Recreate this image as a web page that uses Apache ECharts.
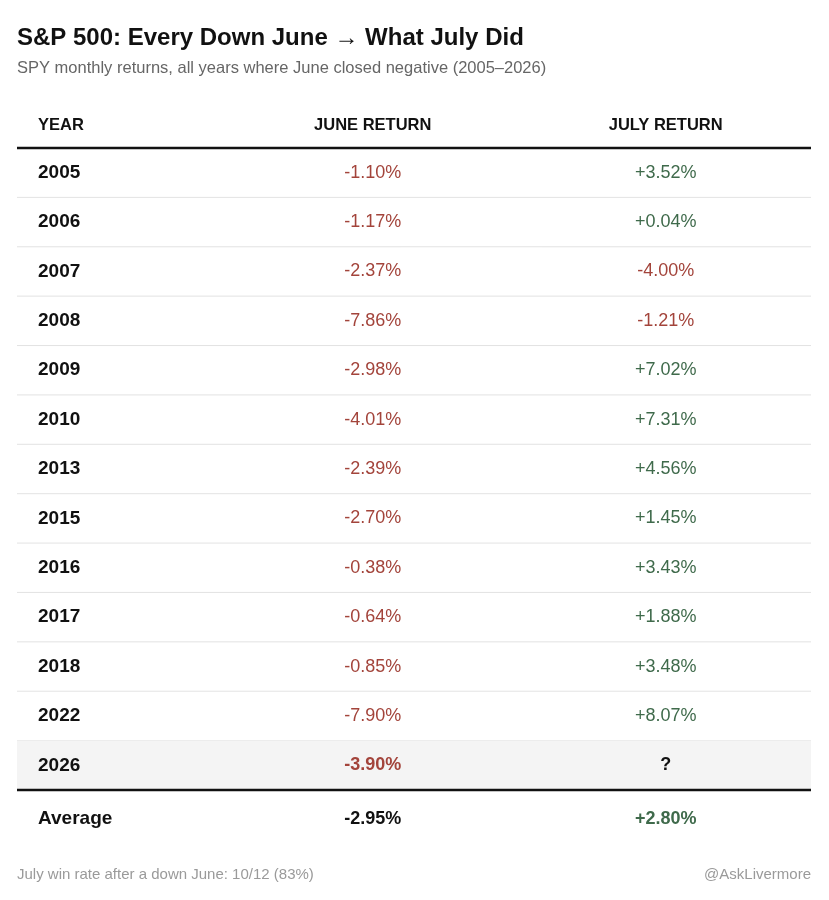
<!DOCTYPE html>
<html>
<head>
<meta charset="utf-8">
<title>S&amp;P 500: Every Down June</title>
<script src="https://cdn.jsdelivr.net/npm/echarts@6/dist/echarts.min.js"></script>
<style>
  html, body { margin: 0; padding: 0; background: #fff; }
  #chart { width: 829px; height: 900px; }
</style>
</head>
<body>
<div id="chart"></div>
<script>
// rows of the table
const years = ['2005', '2006', '2007', '2008', '2009', '2010', '2013', '2015', '2016', '2017', '2018', '2022', '2026']
const juneReturns = [-1.10, -1.17, -2.37, -7.86, -2.98, -4.01, -2.39, -2.70, -0.38, -0.64, -0.85, -7.90, -3.90]
const julyReturns = [3.52, 0.04, -4.00, -1.21, 7.02, 7.31, 4.56, 1.45, 3.43, 1.88, 3.48, 8.07, null]
const averageLabel = 'Average'
const averageJune = -2.95
const averageJuly = 2.80
const headers = ['YEAR', 'JUNE RETURN', 'JULY RETURN']

const FONT = '"Liberation Sans", Arial, Helvetica, sans-serif'
const RED = '#a3443b'
const GREEN = '#3f6a4b'
const INK = '#111'

// column anchors on a 0..1 x scale
const colX = [0.0265, 0.448, 0.817]

const rowNames = years.concat([averageLabel])
const lastYear = years.length - 1

function fmt (v) {
  if (v === null) return '?'
  return (v > 0 ? '+' : '') + v.toFixed(2) + '%'
}
function tone (v) {
  if (v === null) return INK
  return v < 0 ? RED : GREEN
}

const rows = rowNames.map((name, i) => {
  if (i < years.length) return [i, juneReturns[i], julyReturns[i]]
  return [i, averageJune, averageJuly]
})

const myChart = echarts.init(document.getElementById('chart'))

myChart.setOption({
  backgroundColor: '#fff',
  animation: false,
  title: [
    {
      text: 'S&P 500: Every Down June \u2192 What July Did',
      subtext: 'SPY monthly returns, all years where June closed negative (2005\u20132026)',
      left: 17,
      top: 26,
      padding: 0,
      itemGap: 10,
      textStyle: { fontFamily: FONT, fontSize: 24, fontWeight: 'bold', color: INK },
      subtextStyle: { fontFamily: FONT, fontSize: 16.5, color: '#666' }
    },
    {
      text: 'July win rate after a down June: 10/12 (83%)',
      left: 17,
      top: 867,
      padding: 0,
      textStyle: { fontFamily: FONT, fontSize: 15, fontWeight: 'normal', color: '#9a9a9a' }
    },
    {
      text: '@AskLivermore',
      right: 18,
      top: 867,
      padding: 0,
      textStyle: { fontFamily: FONT, fontSize: 15, fontWeight: 'normal', color: '#9a9a9a' }
    }
  ],
  graphic: headers.map((h, k) => ({
    type: 'text',
    x: k === 0 ? 38 : 17 + colX[k] * 794,
    y: 125,
    style: {
      text: h,
      font: 'bold 16.5px ' + FONT,
      fill: INK,
      textAlign: k === 0 ? 'left' : 'center',
      textVerticalAlign: 'middle'
    }
  })),
  grid: { left: 17, right: 18, top: 148, height: 642 / 13 * rowNames.length },
  xAxis: { type: 'value', min: 0, max: 1, show: false },
  yAxis: {
    type: 'category',
    data: rowNames,
    inverse: true,
    show: false
  },
  series: [
    {
      type: 'custom',
      coordinateSystem: 'cartesian2d',
      encode: { x: -1, y: 0 },
      data: rows,
      renderItem: function (params, api) {
        const i = api.value(0)
        const cs = params.coordSys
        const y = api.coord([0, i])[1]
        const bandH = api.size([0, 1])[1]
        const top = y - bandH / 2
        const bottom = y + bandH / 2
        const x0 = cs.x
        const x1 = cs.x + cs.width
        const isAvg = i === years.length
        const isCurrent = i === lastYear
        const june = isAvg ? averageJune : juneReturns[i]
        const july = isAvg ? averageJuly : julyReturns[i]
        const bold = isAvg || isCurrent
        const yText = isAvg ? y + 4 : y
        const children = []

        if (isCurrent) {
          children.push({
            type: 'rect',
            shape: { x: x0, y: top, width: cs.width, height: bandH },
            style: { fill: '#f4f4f4' }
          })
        }
        if (i === 0) {
          children.push({
            type: 'line',
            shape: { x1: x0, y1: top, x2: x1, y2: top },
            style: { stroke: '#111', lineWidth: 2.5 }
          })
        }
        if (i < lastYear) {
          children.push({
            type: 'line',
            shape: { x1: x0, y1: bottom, x2: x1, y2: bottom },
            style: { stroke: '#e3e3e3', lineWidth: 1 }
          })
        } else if (isCurrent) {
          children.push({
            type: 'line',
            shape: { x1: x0, y1: bottom, x2: x1, y2: bottom },
            style: { stroke: '#111', lineWidth: 2.5 }
          })
        }

        children.push({
          type: 'text',
          x: api.coord([colX[0], i])[0],
          y: yText,
          style: {
            text: rowNames[i],
            font: 'bold 19px ' + FONT,
            fill: INK,
            textAlign: 'left',
            textVerticalAlign: 'middle'
          }
        })
        children.push({
          type: 'text',
          x: api.coord([colX[1], i])[0],
          y: yText,
          style: {
            text: fmt(june),
            font: (bold ? 'bold ' : '') + '18px ' + FONT,
            fill: isAvg ? INK : tone(june),
            textAlign: 'center',
            textVerticalAlign: 'middle'
          }
        })
        children.push({
          type: 'text',
          x: api.coord([colX[2], i])[0],
          y: yText,
          style: {
            text: fmt(july),
            font: (bold ? 'bold ' : '') + '18px ' + FONT,
            fill: tone(july),
            textAlign: 'center',
            textVerticalAlign: 'middle'
          }
        })

        return { type: 'group', children: children }
      }
    }
  ]
})
</script>
</body>
</html>
